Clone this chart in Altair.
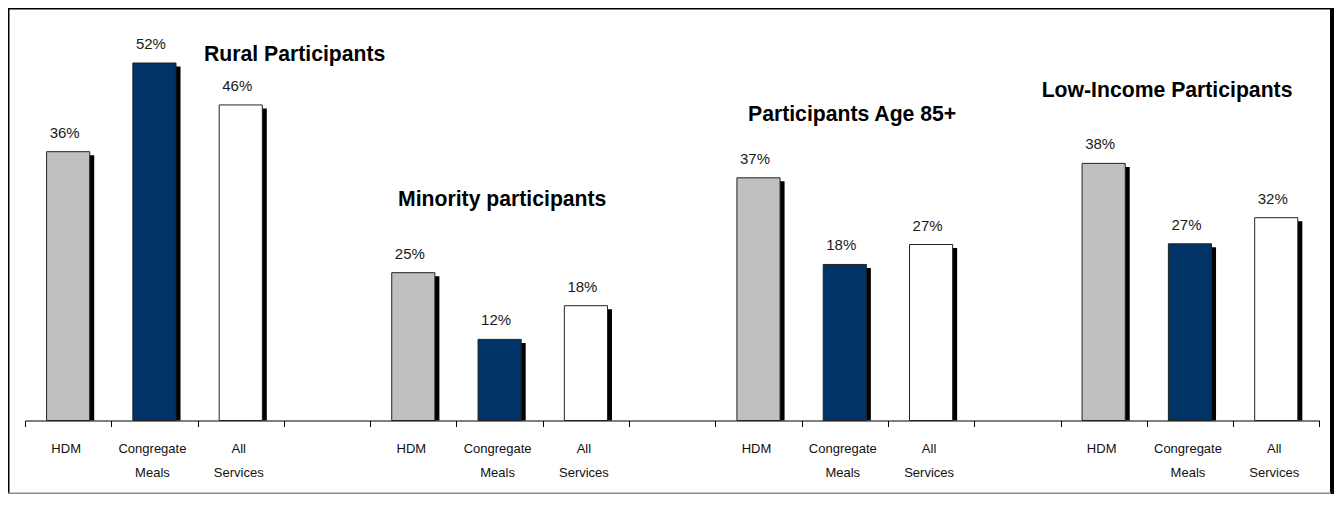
import json
import altair as alt
import pandas as pd

# ---------------- data ----------------
groups = ["Rural Participants", "Minority participants",
          "Participants Age 85+", "Low-Income Participants"]
services = ["HDM", "Congregate Meals", "All Services"]

# bar heights as drawn (percent scale)
rural_values = [39.1, 52.0, 45.9]
minority_values = [21.5, 11.8, 16.7]
age85_values = [35.3, 22.7, 25.6]
low_income_values = [37.4, 25.7, 29.5]

# value labels printed above the bars
rural_labels = ["36%", "52%", "46%"]
minority_labels = ["25%", "12%", "18%"]
age85_labels = ["37%", "18%", "27%"]
low_income_labels = ["38%", "27%", "32%"]

# tick labels of the 15 category slots (blank slot between groups)
slot_labels = ["HDM", "Congregate Meals", "All Services", "",
               "HDM", "Congregate Meals", "All Services", "",
               "HDM", "Congregate Meals", "All Services", "",
               "HDM", "Congregate Meals", "All Services"]

# group title anchors: slot and level on the value scale
title_slots = [2, 4, 8, 12]
title_levels = [52.3, 31.2, 43.5, 47.1]

# ---------------- build tables ----------------
all_values = [rural_values, minority_values, age85_values, low_income_values]
all_labels = [rural_labels, minority_labels, age85_labels, low_income_labels]
rows = []
for gi, g in enumerate(groups):
    for si, s in enumerate(services):
        rows.append({"slot": gi * 4 + si, "group": g, "service": s,
                     "value": all_values[gi][si], "label": all_labels[gi][si]})
df = pd.DataFrame(rows)

label_lines = [lab.split(" ") if lab else [""] for lab in slot_labels]
label_expr = json.dumps(label_lines) + "[datum.value]"

W = 1294.4
H = 412.5
FONT = "Liberation Sans"

x_enc = alt.X(
    "slot:O",
    scale=alt.Scale(domain=list(range(len(slot_labels))), paddingInner=0, paddingOuter=0),
    axis=alt.Axis(
        title=None, labelExpr=label_expr, labelAngle=0, tickBand="extent",
        domainColor="black", domainWidth=1, tickColor="black", tickWidth=1, tickSize=6,
        labelFont=FONT, labelFontSize=13, labelColor="#111111", labelLineHeight=24,
        labelPadding=16, labelOffset=-2.5, labelOverlap=False, labelBound=False,
        labelFlush=False, grid=False,
    ),
)
y_enc = alt.Y("value:Q", scale=alt.Scale(domain=[0, 60], nice=False, zero=True), axis=None)

base = alt.Chart(df)

shadow = base.mark_bar(color="black", width=alt.RelativeBandSize(0.5),
                       xOffset=4.5, yOffset=3.5).encode(x=x_enc, y=y_enc, y2=alt.datum(0))

bars = base.mark_bar(width=alt.RelativeBandSize(0.5), stroke="#222222", strokeWidth=1).encode(
    x=x_enc, y=y_enc, y2=alt.datum(0),
    color=alt.Color("service:N",
                    scale=alt.Scale(domain=services, range=["#C0C0C0", "#003366", "#FFFFFF"]),
                    legend=None),
)

value_text = base.mark_text(font=FONT, fontSize=15, color="#1a1a1a", baseline="alphabetic",
                            dx=-3.5, dy=-14).encode(x=x_enc, y=y_enc, text="label:N")

title_dx = [-36.7, -15.3, -10.5, -62.0]
title_layers = []
for gi, g in enumerate(groups):
    tdf = pd.DataFrame({"slot": [title_slots[gi]], "value": [title_levels[gi]], "t": [g]})
    title_layers.append(
        alt.Chart(tdf).mark_text(font=FONT, fontSize=21.2, fontWeight="bold", color="black",
                                 align="left", baseline="alphabetic", dx=title_dx[gi])
        .encode(x=x_enc, y=y_enc, text="t:N")
    )

# chart frame (decoration)
one = pd.DataFrame({"a": [0]})
frame_left = alt.Chart(one).mark_rect(color="black").encode(
    x=alt.value(-17), x2=alt.value(-15.5), y=alt.value(0), y2=alt.value(486))
frame_top = alt.Chart(one).mark_rect(color="black").encode(
    x=alt.value(-17), x2=alt.value(1306), y=alt.value(0), y2=alt.value(1.5))
frame_right = alt.Chart(one).mark_rect(color="black").encode(
    x=alt.value(1305), x2=alt.value(1309), y=alt.value(0), y2=alt.value(486))
frame_bottom = alt.Chart(one).mark_rect(color="#8a8a8a").encode(
    x=alt.value(-17), x2=alt.value(1306), y=alt.value(484.5), y2=alt.value(486))

chart = alt.layer(
    frame_left, frame_top, frame_right, frame_bottom,
    shadow, bars, value_text, *title_layers,
).properties(
    width=W, height=H,
    autosize=alt.AutoSizeParams(type="none"),
    padding={"left": 17, "top": 0, "right": 14.6, "bottom": 73.5},
).configure_view(stroke=None)

chart.save("out.html", embed_options={"renderer": "svg", "actions": False})
